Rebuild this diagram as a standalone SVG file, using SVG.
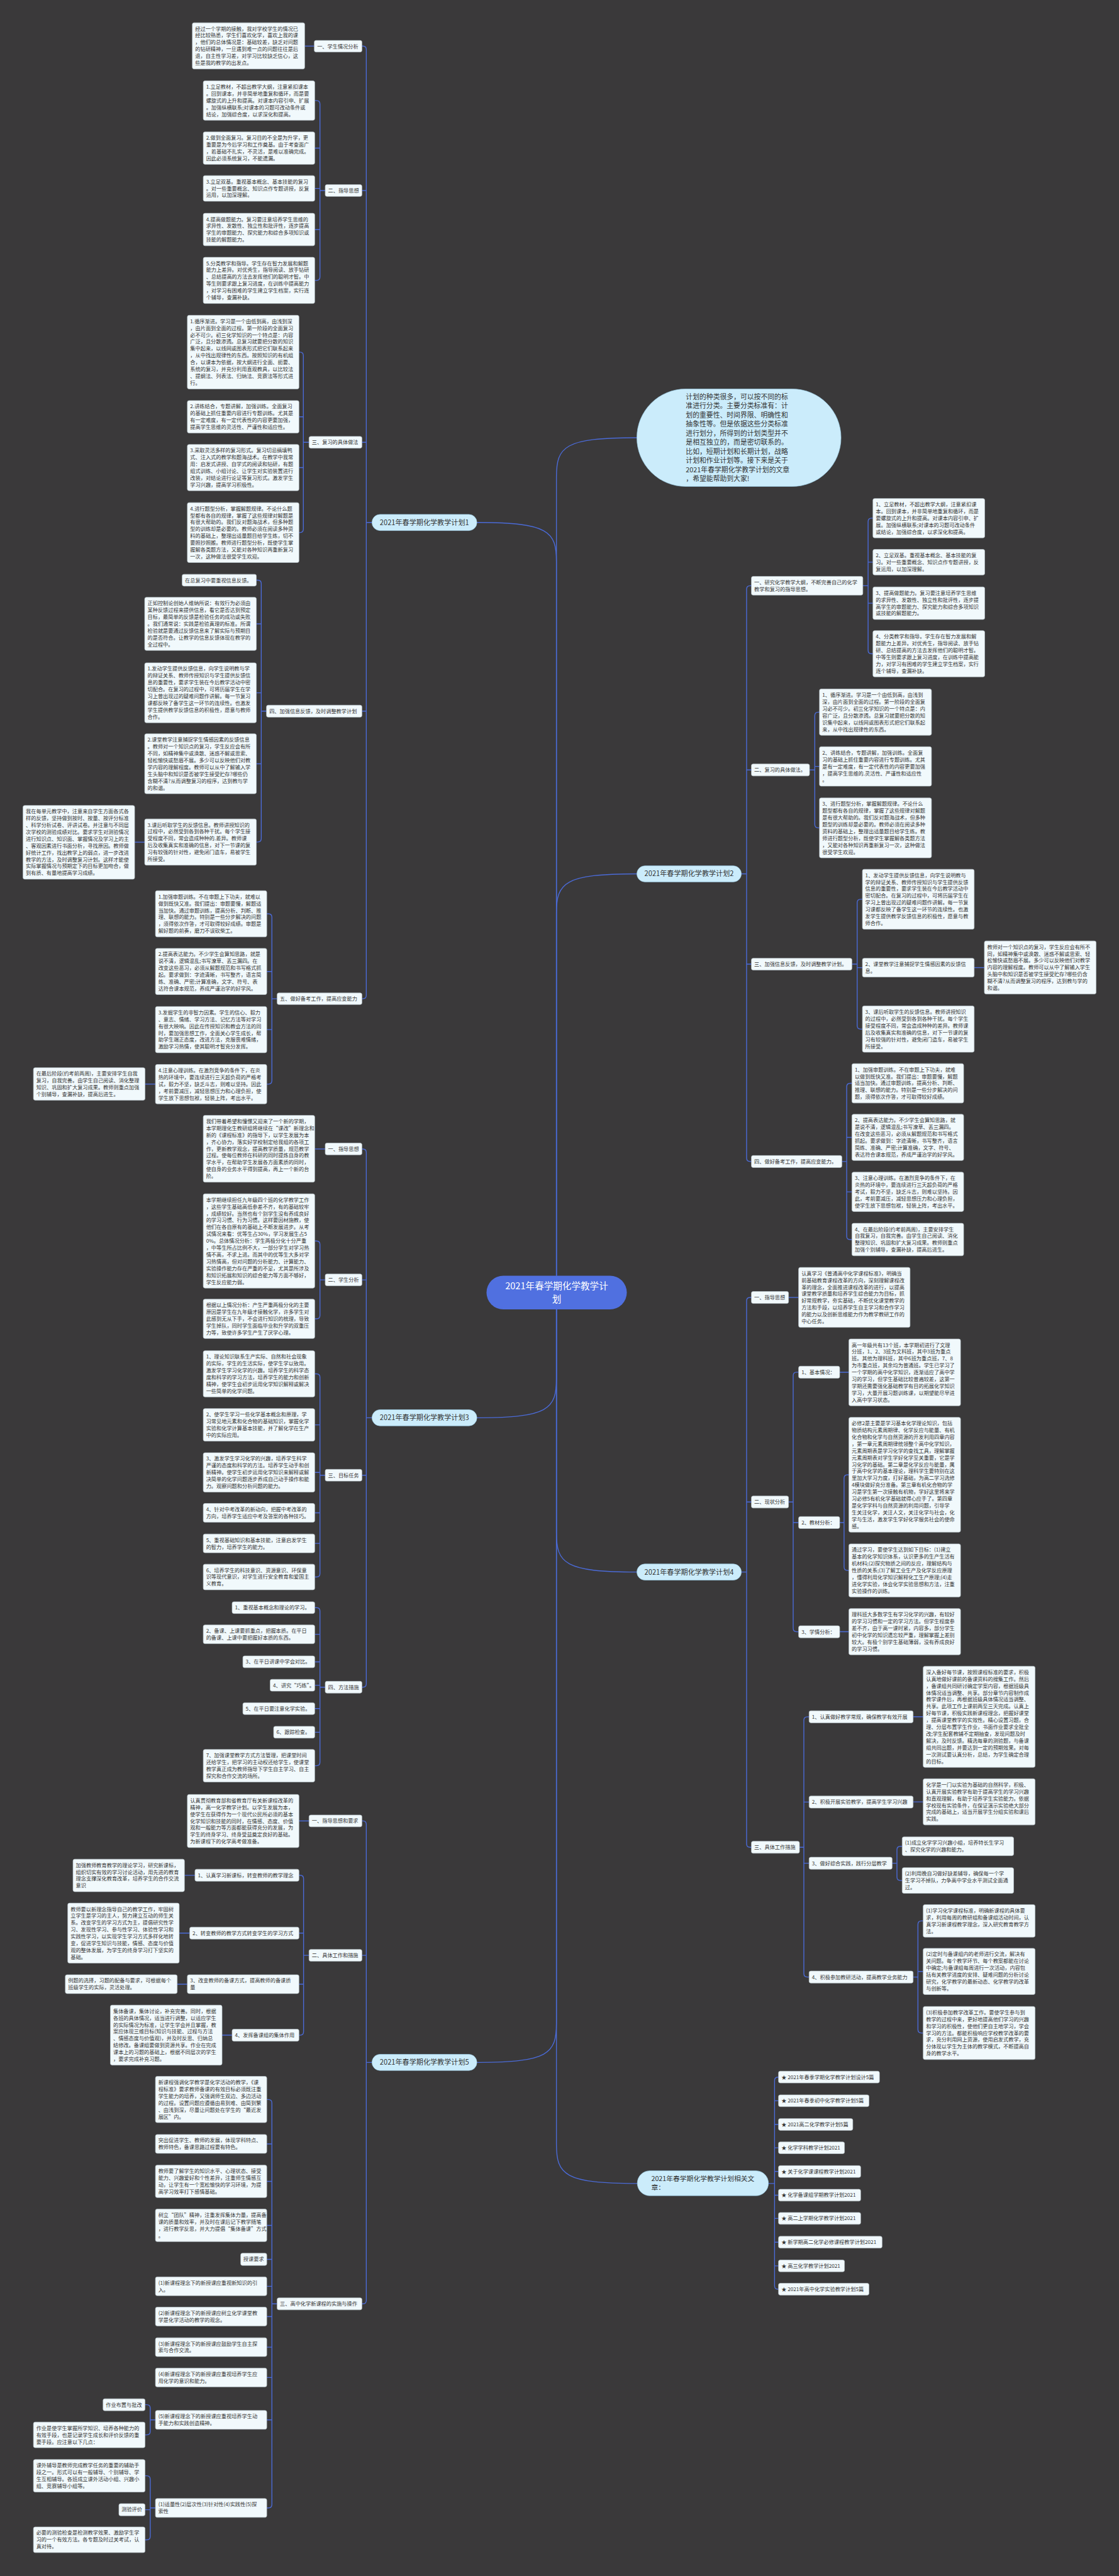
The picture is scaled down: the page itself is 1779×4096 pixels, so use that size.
<svg xmlns="http://www.w3.org/2000/svg" width="1779" height="4096" viewBox="0 0 1779 4096">
<style>
.bg{fill:#3a393a}
.b{fill:#f1f9fc;stroke:#b9c6cc;stroke-width:1}
.t{font-family:"Noto Sans CJK SC","Noto Sans",sans-serif;font-size:11.8px;fill:#333}
.c{fill:none;stroke:#4b6bd8;stroke-width:2}
.pn{fill:#cbecfb;stroke:#9fd2ea;stroke-width:1}
.pt{font-family:"Noto Sans CJK SC","Noto Sans",sans-serif;font-size:16px;fill:#333}
.ct{font-family:"Noto Sans CJK SC","Noto Sans",sans-serif;font-size:21px;fill:#fff}
</style>
<rect class="bg" x="0" y="0" width="1779" height="4096"/>
<g transform="scale(0.694922)">
<g id="connectors">
<path class="c" d="M1273 2919 V1285.5 C1273 1215.5 1255 1195.5 1091 1195.5"/>
<path class="c" d="M1273 2919 V1091.5 C1273 1021.5 1291 1001.5 1457 1001.5"/>
<path class="c" d="M1273 2919 V2089.5 C1273 2019.5 1291 1999.5 1457 1999.5"/>
<path class="c" d="M1273 2996 V3154 C1273 3224 1255 3244 1091 3244"/>
<path class="c" d="M1273 2996 V3507 C1273 3577 1291 3597 1457 3597"/>
<path class="c" d="M1273 2996 V4629 C1273 4699 1255 4719 1091 4719"/>
<path class="c" d="M1273 2996 V4906 C1273 4976 1291 4996 1458 4996"/>
<path class="c" d="M828 105.5 H830 Q838 105.5 838 113.5 V2277.25 Q838 2285.25 830 2285.25 H828 M838 436 H828 M838 1012 H828 M838 1627.25 H828 M851 1195.5 H838"/>
<path class="c" d="M719 105.5 H697"/>
<path class="c" d="M720 230 H724 Q732 230 732 238 V633.6 Q732 641.6 724 641.6 H720 M732 338.9 H720 M732 431.2 H720 M732 525.2 H720 M744 436 H732"/>
<path class="c" d="M684 805.7 H686 Q694 805.7 694 813.7 V1210.6 Q694 1218.6 686 1218.6 H684 M694 953.7 H684 M694 1069.9 H684 M707 1012 H694"/>
<path class="c" d="M586.5 1327.5 H589.7 Q597.7 1327.5 597.7 1335.5 V1918.7 Q597.7 1926.7 589.7 1926.7 H586.5 M597.7 1427.5 H586.5 M597.7 1585.2 H586.5 M597.7 1747.6 H586.5 M609.6 1627.25 H597.7"/>
<path class="c" d="M331 1927 H308"/>
<path class="c" d="M610.3 2090.9 H614 Q622 2090.9 622 2098.9 V2472.7 Q622 2480.7 614 2480.7 H610.3 M622 2222.9 H610.3 M622 2355.9 H610.3 M634 2285.25 H622"/>
<path class="c" d="M355.6 2480.5 H331.8"/>
<path class="c" d="M828 2629 H830 Q838 2629 838 2637 V3852.5 Q838 3860.5 830 3860.5 H828 M838 2928.5 H828 M838 3375.5 H828 M851 3244 H838"/>
<path class="c" d="M744 2629 H720"/>
<path class="c" d="M720 2839.5 H724 Q732 2839.5 732 2847.5 V3009.7 Q732 3017.7 724 3017.7 H720 M744 2928.5 H732"/>
<path class="c" d="M720 3143.5 H724 Q732 3143.5 732 3151.5 V3600.4 Q732 3608.4 724 3608.4 H720 M732 3260.2 H720 M732 3369 H720 M732 3461.5 H720 M732 3531.5 H720 M744 3375.5 H732"/>
<path class="c" d="M720 3678.5 H724 Q732 3678.5 732 3686.5 V4032.2 Q732 4040.2 724 4040.2 H720 M732 3739.5 H720 M732 3802.5 H720 M732 3856 H720 M732 3909.5 H720 M732 3963.5 H720 M744 3860.5 H732"/>
<path class="c" d="M828 4166.5 H830 Q838 4166.5 838 4174.5 V5263.5 Q838 5271.5 830 5271.5 H828 M838 4474 H828 M851 4719 H838"/>
<path class="c" d="M707 4166.5 H684"/>
<path class="c" d="M684 4290.75 H686.5 Q694.5 4290.75 694.5 4298.75 V4648.75 Q694.5 4656.75 686.5 4656.75 H684 M694.5 4423.25 H684 M694.5 4540 H684 M707 4474 H694.5"/>
<path class="c" d="M446 4291 H422 M434 4423.25 H410 M428.6 4540 H405.4 M531 4656.7 H508"/>
<path class="c" d="M610.3 4803.9 H614 Q622 4803.9 622 4811.9 V5730.5 Q622 5738.5 614 5738.5 H610.3 M622 4905.5 H610.3 M622 4991.2 H610.3 M622 5091.9 H610.3 M622 5169.6 H610.3 M622 5231.3 H610.3 M622 5300.5 H610.3 M622 5370.5 H610.3 M622 5440 H610.3 M622 5536.9 H610.3 M634 5271.5 H622"/>
<path class="c" d="M331.8 5502.3 H335.7 Q343.7 5502.3 343.7 5510.3 V5563.35 Q343.7 5571.35 335.7 5571.35 H331.8 M355.6 5536.9 H343.7"/>
<path class="c" d="M331.8 5664.9 H335.7 Q343.7 5664.9 343.7 5672.9 V5803.35 Q343.7 5811.35 335.7 5811.35 H331.8 M343.7 5742.5 H331.8 M355.6 5738.5 H343.7"/>
<path class="c" d="M1719 1340.3 H1716 Q1708 1340.3 1708 1348.3 V2649.75 Q1708 2657.75 1716 2657.75 H1719 M1708 1761.75 H1719 M1708 2206.1 H1719 M1696 1999.5 H1708"/>
<path class="c" d="M1997 1185.5 H1994 Q1986 1185.5 1986 1193.5 V1487.9 Q1986 1495.9 1994 1495.9 H1997 M1986 1286.35 H1997 M1986 1380.2 H1997 M1974 1340.3 H1986"/>
<path class="c" d="M1874.7 1629.5 H1872 Q1864 1629.5 1864 1637.5 V1886.3 Q1864 1894.3 1872 1894.3 H1874.7 M1864 1753.65 H1874.7 M1852 1761.75 H1864"/>
<path class="c" d="M1973 2057.6 H1969 Q1961 2057.6 1961 2065.6 V2346.7 Q1961 2354.7 1969 2354.7 H1973 M1961 2214.1 H1973 M1949 2206.1 H1961"/>
<path class="c" d="M2228.7 2214 H2252"/>
<path class="c" d="M1949 2478.75 H1945 Q1937 2478.75 1937 2486.75 V2828.2 Q1937 2836.2 1945 2836.2 H1949 M1937 2602.5 H1949 M1937 2727.05 H1949 M1926 2657.75 H1937"/>
<path class="c" d="M1719 2968.75 H1716 Q1708 2968.75 1708 2976.75 V4218.75 Q1708 4226.75 1716 4226.75 H1719 M1708 3436.75 H1719 M1696 3597 H1708"/>
<path class="c" d="M1804 2968.7 H1827"/>
<path class="c" d="M1827 3139.75 H1822.6 Q1814.6 3139.75 1814.6 3147.75 V3725.75 Q1814.6 3733.75 1822.6 3733.75 H1827 M1814.6 3483.75 H1827 M1804 3436.75 H1814.6"/>
<path class="c" d="M1921 3140 H1942 M1921 3733.6 H1942"/>
<path class="c" d="M1942 3374.4 H1939 Q1931 3374.4 1931 3382.4 V3585.35 Q1931 3593.35 1939 3593.35 H1942 M1921 3483.75 H1931"/>
<path class="c" d="M1851 3928.25 H1847 Q1839 3928.25 1839 3936.25 V4515.75 Q1839 4523.75 1847 4523.75 H1851 M1839 4123.25 H1851 M1839 4263.25 H1851 M1829 4226.75 H1839"/>
<path class="c" d="M2089 3928.2 H2112 M2089 4123 H2112"/>
<path class="c" d="M2064 4224.5 H2060 Q2052 4224.5 2052 4232.5 V4294.75 Q2052 4302.75 2060 4302.75 H2064 M2041 4263.25 H2052"/>
<path class="c" d="M2112 4395.2 H2108 Q2100 4395.2 2100 4403.2 V4643.75 Q2100 4651.75 2108 4651.75 H2112 M2100 4510.9 H2112 M2089 4523.75 H2100"/>
<path class="c" d="M1781 4752.6 H1780 Q1772 4752.6 1772 4760.6 V5230 Q1772 5238 1780 5238 H1781 M1772 4806.8 H1781 M1772 4861 H1781 M1772 4914.4 H1781 M1772 4968.6 H1781 M1772 5022.8 H1781 M1772 5076 H1781 M1772 5130.4 H1781 M1772 5184.6 H1781 M1758 4996 H1772"/>
</g>

<g id="center">
<rect x="1113" y="2919" width="321" height="77" rx="38.5" fill="#5070e0"/>
<text class="ct" text-anchor="middle" x="1273.5" y="2950.5">2021年春学期化学教学计<tspan x="1273.5" dy="29">划</tspan></text>
</g>

<g id="intro">
<rect class="pn" x="1457" y="890" width="467" height="223" rx="111.5"/>
<text class="pt" style="font-size:15.6px" x="1569" y="913.8"><tspan x="1569" dy="0">计划的种类很多，可以按不同的标</tspan><tspan x="1569" dy="20.8">准进行分类。主要分类标准有：计</tspan><tspan x="1569" dy="20.8">划的重要性、时间界限、明确性和</tspan><tspan x="1569" dy="20.8">抽象性等。但是依据这些分类标准</tspan><tspan x="1569" dy="20.8">进行划分，所得到的计划类型并不</tspan><tspan x="1569" dy="20.8">是相互独立的，而是密切联系的。</tspan><tspan x="1569" dy="20.8">比如，短期计划和长期计划，战略</tspan><tspan x="1569" dy="20.8">计划和作业计划等。接下来是关于</tspan><tspan x="1569" dy="20.8">2021年春学期化学教学计划的文章</tspan><tspan x="1569" dy="20.8">，希望能帮助到大家!</tspan></text>
</g>

<g id="plan1-node"><rect class="pn" x="851" y="1177" width="240" height="37" rx="18.5"/><text class="pt" text-anchor="middle" x="971" y="1201.1">2021年春学期化学教学计划1</text></g>
<g id="plan2-node"><rect class="pn" x="1457" y="1981" width="239" height="37" rx="18.5"/><text class="pt" text-anchor="middle" x="1576.5" y="2005.1">2021年春学期化学教学计划2</text></g>
<g id="plan3-node"><rect class="pn" x="851" y="3225.5" width="240" height="37" rx="18.5"/><text class="pt" text-anchor="middle" x="971" y="3249.6">2021年春学期化学教学计划3</text></g>
<g id="plan4-node"><rect class="pn" x="1457" y="3578.5" width="239" height="37" rx="18.5"/><text class="pt" text-anchor="middle" x="1576.5" y="3602.6">2021年春学期化学教学计划4</text></g>
<g id="plan5-node"><rect class="pn" x="851" y="4700.5" width="240" height="37" rx="18.5"/><text class="pt" text-anchor="middle" x="971" y="4724.6">2021年春学期化学教学计划5</text></g>
<g id="related-node"><rect class="pn" x="1458" y="4967" width="300" height="57" rx="28.5"/><text class="pt" style="font-size:15.5px" x="1490" y="4990.7">2021年春学期化学教学计划相关文<tspan x="1490" dy="20.6">章：</tspan></text></g>

<!-- Plan 1 -->
<g id="p1-l1"><rect class="b" x="719" y="92.5" width="109" height="26.5" rx="4"/><text class="t" x="725.5" y="110.4">一、学生情况分析</text></g>
<g id="p1-a"><rect class="b" x="440" y="52" width="257" height="105.8" rx="4"/><text class="t" x="446.5" y="69.9"><tspan x="446.5" dy="0">经过一个学期的接触，我对学校学生的情况已</tspan><tspan x="446.5" dy="15.7">经比较熟悉，学生们喜欢化学，喜欢上我的课</tspan><tspan x="446.5" dy="15.7">，他们的总体情况是：基础较差，缺乏对问题</tspan><tspan x="446.5" dy="15.7">的钻研精神，一旦遇到难一点的问题往往是后</tspan><tspan x="446.5" dy="15.7">退，自主性学习差，对学习比较缺乏信心，这</tspan><tspan x="446.5" dy="15.7">些是我的教学的出发点。</tspan></text></g>
<g id="p1-l2"><rect class="b" x="744" y="422.5" width="84" height="27" rx="4"/><text class="t" x="750.5" y="440.4">二、指导思想</text></g>
<g id="p1-b1"><rect class="b" x="465" y="185" width="255" height="90.1" rx="4"/><text class="t" x="471.5" y="202.9"><tspan x="471.5" dy="0">1.立足教材，不超出教学大纲，注意紧扣课本</tspan><tspan x="471.5" dy="15.7">。回到课本，并非简单地重复和循环，而是要</tspan><tspan x="471.5" dy="15.7">螺旋式的上升和提高。对课本内容引申、扩展</tspan><tspan x="471.5" dy="15.7">。加强纵横联系;对课本的习题可改动条件或</tspan><tspan x="471.5" dy="15.7">结论，加强综合度，以求深化和提高。</tspan></text></g>
<g id="p1-b2"><rect class="b" x="465" y="301.7" width="255" height="74.4" rx="4"/><text class="t" x="471.5" y="319.6"><tspan x="471.5" dy="0">2.做到全面复习。复习目的不全是为升学，更</tspan><tspan x="471.5" dy="15.7">重要是为今后学习和工作奠基。由于考查面广</tspan><tspan x="471.5" dy="15.7">，若基础不扎实，不灵活，是难以准确完成。</tspan><tspan x="471.5" dy="15.7">因此必须系统复习，不能遗漏。</tspan></text></g>
<g id="p1-b3"><rect class="b" x="465" y="401.8" width="255" height="58.7" rx="4"/><text class="t" x="471.5" y="419.7"><tspan x="471.5" dy="0">3.立足双基。重视基本概念、基本技能的复习</tspan><tspan x="471.5" dy="15.7">。对一些重要概念、知识点作专题讲授，反复</tspan><tspan x="471.5" dy="15.7">运用，以加深理解。</tspan></text></g>
<g id="p1-b4"><rect class="b" x="465" y="488" width="255" height="74.4" rx="4"/><text class="t" x="471.5" y="505.9"><tspan x="471.5" dy="0">4.提高做题能力。复习要注意培养学生思维的</tspan><tspan x="471.5" dy="15.7">求异性、发散性、独立性和批评性，逐步提高</tspan><tspan x="471.5" dy="15.7">学生的审题能力、探究能力和综合多项知识或</tspan><tspan x="471.5" dy="15.7">技能的解题能力。</tspan></text></g>
<g id="p1-b5"><rect class="b" x="465" y="588.7" width="255" height="105.8" rx="4"/><text class="t" x="471.5" y="606.6"><tspan x="471.5" dy="0">5.分类教学和指导。学生存在智力发展和解题</tspan><tspan x="471.5" dy="15.7">能力上差异。对优秀生，指导阅读、放手钻研</tspan><tspan x="471.5" dy="15.7">、总结提高的方法去发挥他们的聪明才智。中</tspan><tspan x="471.5" dy="15.7">等生则要求跟上复习进度，在训练中提高能力</tspan><tspan x="471.5" dy="15.7">，对学习有困难的学生建立学生档案，实行逐</tspan><tspan x="471.5" dy="15.7">个辅导，查漏补缺。</tspan></text></g>
<g id="p1-l3"><rect class="b" x="707" y="998.5" width="121" height="27" rx="4"/><text class="t" x="713.5" y="1016.4">三、复习的具体做法</text></g>
<g id="p1-c1"><rect class="b" x="428.6" y="721.4" width="255.4" height="168.6" rx="4"/><text class="t" x="435.1" y="739.3"><tspan x="435.1" dy="0">1.循序渐进。学习是一个由低到高，由浅到深</tspan><tspan x="435.1" dy="15.7">，由片面到全面的过程。第一阶段的全面复习</tspan><tspan x="435.1" dy="15.7">必不可少。初三化学知识的一个特点是：内容</tspan><tspan x="435.1" dy="15.7">广泛，且分散渗透。总复习就要把分散的知识</tspan><tspan x="435.1" dy="15.7">集中起来，以线网或图表形式把它们联系起来</tspan><tspan x="435.1" dy="15.7">，从中找出规律性的东西。按照知识的有机组</tspan><tspan x="435.1" dy="15.7">合，以课本为依据，按大纲进行全面、扼要、</tspan><tspan x="435.1" dy="15.7">系统的复习，并充分利用直观教具，以比较法</tspan><tspan x="435.1" dy="15.7">、提纲法、列表法、归纳法、竞赛法等形式进</tspan><tspan x="435.1" dy="15.7">行。</tspan></text></g>
<g id="p1-c2"><rect class="b" x="428.6" y="916.5" width="255.4" height="74.4" rx="4"/><text class="t" x="435.1" y="934.4"><tspan x="435.1" dy="0">2.讲练结合，专题讲解，加强训练。全面复习</tspan><tspan x="435.1" dy="15.7">的基础上抓住重要内容进行专题训练。尤其是</tspan><tspan x="435.1" dy="15.7">有一定难度，有一定代表性的内容更要加强，</tspan><tspan x="435.1" dy="15.7">提高学生思维的灵活性、严谨性和适应性。</tspan></text></g>
<g id="p1-c3"><rect class="b" x="428.6" y="1017" width="255.4" height="105.8" rx="4"/><text class="t" x="435.1" y="1034.9"><tspan x="435.1" dy="0">3.采取灵活多样的复习形式。复习切忌搞填鸭</tspan><tspan x="435.1" dy="15.7">式、注入式的教学和题海战术。在教学中我常</tspan><tspan x="435.1" dy="15.7">用：启发式讲授、自学式的阅读和钻研，有题</tspan><tspan x="435.1" dy="15.7">组式训练、小组讨论、让学生对实验装置进行</tspan><tspan x="435.1" dy="15.7">改装，对结论进行论证等复习形式。激发学生</tspan><tspan x="435.1" dy="15.7">学习兴趣，提高学习积极性。</tspan></text></g>
<g id="p1-c4"><rect class="b" x="428.6" y="1150" width="255.4" height="137.2" rx="4"/><text class="t" x="435.1" y="1167.9"><tspan x="435.1" dy="0">4.进行题型分析，掌握解题规律。不论什么题</tspan><tspan x="435.1" dy="15.7">型都有各自的规律，掌握了这些规律对解题是</tspan><tspan x="435.1" dy="15.7">有很大帮助的。我们反对题海战术，但多种题</tspan><tspan x="435.1" dy="15.7">型的训练却是必要的。教师必须在阅读多种资</tspan><tspan x="435.1" dy="15.7">料的基础上，整理出适量题目给学生练，切不</tspan><tspan x="435.1" dy="15.7">要照抄照搬。教师进行题型分析，既使学生掌</tspan><tspan x="435.1" dy="15.7">握解各类题方法，又能对各种知识再重新复习</tspan><tspan x="435.1" dy="15.7">一次，这种做法很受学生欢迎。</tspan></text></g>
<g id="p1-l4"><rect class="b" x="609.6" y="1613.5" width="218.4" height="27.5" rx="4"/><text class="t" x="616.1" y="1631.4">四、加强信息反馈，及时调整教学计划</text></g>
<g id="p1-d0"><rect class="b" x="416.7" y="1314" width="169.8" height="27" rx="4"/><text class="t" x="423.2" y="1331.9">在总复习中要重视信息反馈。</text></g>
<g id="p1-d1"><rect class="b" x="331" y="1366.7" width="255.5" height="121.5" rx="4"/><text class="t" x="337.5" y="1384.6"><tspan x="337.5" dy="0">正如控制论创始人维纳所说：有效行为必须由</tspan><tspan x="337.5" dy="15.7">某种反馈过程来提供信息，看它是否达到预定</tspan><tspan x="337.5" dy="15.7">目标，最简单的反馈是检验任务的成功或失败</tspan><tspan x="337.5" dy="15.7">。我们通常说：实践是检验真理的标准。所谓</tspan><tspan x="337.5" dy="15.7">检验就是要通过反馈信息来了解实际与预期目</tspan><tspan x="337.5" dy="15.7">的是否符合。让教学的信息反馈体现在教学的</tspan><tspan x="337.5" dy="15.7">全过程中。</tspan></text></g>
<g id="p1-d2"><rect class="b" x="331" y="1516.6" width="255.5" height="137.2" rx="4"/><text class="t" x="337.5" y="1534.5"><tspan x="337.5" dy="0">1.发动学生提供反馈信息，向学生说明教与学</tspan><tspan x="337.5" dy="15.7">的辩证关系、教师传授知识与学生提供反馈信</tspan><tspan x="337.5" dy="15.7">息的重要性，要求学生装在今后教学活动中密</tspan><tspan x="337.5" dy="15.7">切配合。在复习的过程中，可将历届学生在学</tspan><tspan x="337.5" dy="15.7">习上曾出现过的疑难问题作讲解。每一节复习</tspan><tspan x="337.5" dy="15.7">课都反映了备学生这一环节的连续性。也激发</tspan><tspan x="337.5" dy="15.7">学生提供教学反馈信息的积极性，愿意与教师</tspan><tspan x="337.5" dy="15.7">合作。</tspan></text></g>
<g id="p1-d3"><rect class="b" x="331" y="1679" width="255.5" height="137.2" rx="4"/><text class="t" x="337.5" y="1696.9"><tspan x="337.5" dy="0">2.课堂教学注意捕捉学生情感因素的反馈信息</tspan><tspan x="337.5" dy="15.7">。教师对一个知识点的复习，学生反应会有所</tspan><tspan x="337.5" dy="15.7">不同，如精神集中或涣散、迷惑不解或思索、</tspan><tspan x="337.5" dy="15.7">轻松愉快或愁眉不展。多少可以反映他们对教</tspan><tspan x="337.5" dy="15.7">学内容的理解程度。教师可以从中了解输入学</tspan><tspan x="337.5" dy="15.7">生头脑中和知识是否被学生接受贮存?哪些仍</tspan><tspan x="337.5" dy="15.7">含糊不清?从而调整复习的程序，达到教与学</tspan><tspan x="337.5" dy="15.7">的和谐。</tspan></text></g>
<g id="p1-d4"><rect class="b" x="331" y="1873.8" width="255.5" height="105.8" rx="4"/><text class="t" x="337.5" y="1891.7"><tspan x="337.5" dy="0">3.课后听取学生的反馈信息。教师讲授知识的</tspan><tspan x="337.5" dy="15.7">过程中，必然受到各到各种干扰。每个学生接</tspan><tspan x="337.5" dy="15.7">受程度不同，常会造成种种的.差异。教师课</tspan><tspan x="337.5" dy="15.7">后及收集真实和准确的信息，对下一节课的复</tspan><tspan x="337.5" dy="15.7">习有较强的针对性，避免闭门造车，易被学生</tspan><tspan x="337.5" dy="15.7">所接受。</tspan></text></g>
<g id="p1-d4l"><rect class="b" x="52.6" y="1843" width="255.4" height="168.6" rx="4"/><text class="t" x="59.1" y="1860.9"><tspan x="59.1" dy="0">我在每单元教学中，注意来自学生方面各式各</tspan><tspan x="59.1" dy="15.7">样的反馈，坚持做到按时、按量、按评分标准</tspan><tspan x="59.1" dy="15.7">、科学分析试卷、评讲试卷。并注意与不同层</tspan><tspan x="59.1" dy="15.7">次学校的测验成绩对比。要求学生对测验情况</tspan><tspan x="59.1" dy="15.7">进行知识点、知识面、掌握情况及学习上的主</tspan><tspan x="59.1" dy="15.7">、客观因素进行书面分析，寻找原因。教师做</tspan><tspan x="59.1" dy="15.7">好统计工作，找出教学上的弱点，进一步改进</tspan><tspan x="59.1" dy="15.7">教学的方法，及时调整复习计划。这样才能使</tspan><tspan x="59.1" dy="15.7">实际掌握情况与预期定下的目标更加吻合，做</tspan><tspan x="59.1" dy="15.7">到有质、有量地提高学习成绩。</tspan></text></g>
<g id="p1-l5"><rect class="b" x="634" y="2272" width="194" height="26.5" rx="4"/><text class="t" x="640.5" y="2289.9">五、做好备考工作，提高应变能力</text></g>
<g id="p1-e1"><rect class="b" x="355.6" y="2038" width="254.7" height="105.8" rx="4"/><text class="t" x="362.1" y="2055.9"><tspan x="362.1" dy="0">1.加强审题训练。不在审题上下功夫，就难以</tspan><tspan x="362.1" dy="15.7">做到既快又准。我们提出：审题要慢，解题适</tspan><tspan x="362.1" dy="15.7">当加快。通过审题训练，提高分析、判断、推</tspan><tspan x="362.1" dy="15.7">理、联想的能力。特别是一些分步解决的问题</tspan><tspan x="362.1" dy="15.7">，须得依次作答，才可取得较好成绩。审题是</tspan><tspan x="362.1" dy="15.7">解好题的前奏，磨刀不误砍柴工。</tspan></text></g>
<g id="p1-e2"><rect class="b" x="355.6" y="2170" width="254.7" height="105.8" rx="4"/><text class="t" x="362.1" y="2187.9"><tspan x="362.1" dy="0">2.提高表达能力。不少学生会算知思路，就是</tspan><tspan x="362.1" dy="15.7">说不清，逻辑混乱;书写潦草、丢三漏四。在</tspan><tspan x="362.1" dy="15.7">改变这些恶习，必须从解题规范和书写格式抓</tspan><tspan x="362.1" dy="15.7">起。要求做到：字迹清晰，书写整齐，语言简</tspan><tspan x="362.1" dy="15.7">练、准确、严密;计算准确，文字、符号、表</tspan><tspan x="362.1" dy="15.7">达符合课本规范，养成严谨治学的好学风。</tspan></text></g>
<g id="p1-e3"><rect class="b" x="355.6" y="2303" width="254.7" height="105.8" rx="4"/><text class="t" x="362.1" y="2320.9"><tspan x="362.1" dy="0">3.发掘学生的非智力因素。学生的信心、毅力</tspan><tspan x="362.1" dy="15.7">、意志、情绪、学习方法、记忆方法等对学习</tspan><tspan x="362.1" dy="15.7">有很大映响。因此在传授知识和教会方法的同</tspan><tspan x="362.1" dy="15.7">时，要加强思想工作，全面关心学生成长，帮</tspan><tspan x="362.1" dy="15.7">助学生端正态度，改进方法，克服畏难情绪，</tspan><tspan x="362.1" dy="15.7">激励学习热情，使其聪明才智充分发挥。</tspan></text></g>
<g id="p1-e4"><rect class="b" x="355.6" y="2435.6" width="254.7" height="90.1" rx="4"/><text class="t" x="362.1" y="2453.5"><tspan x="362.1" dy="0">4.注意心理训练。在激烈竞争的条件下，在炎</tspan><tspan x="362.1" dy="15.7">热的环境中，要连续进行三天超负荷的严格考</tspan><tspan x="362.1" dy="15.7">试，毅力不坚，缺乏斗志，则难以坚持。因此</tspan><tspan x="362.1" dy="15.7">，考前要减压，减轻思想压力和心理负担，使</tspan><tspan x="362.1" dy="15.7">学生放下思想包袱，轻装上阵，考出水平。</tspan></text></g>
<g id="p1-e4l"><rect class="b" x="76.5" y="2443" width="255.3" height="74.4" rx="4"/><text class="t" x="83" y="2460.9"><tspan x="83" dy="0">在最后阶段(约考前两周)，主要安排学生自我</tspan><tspan x="83" dy="15.7">复习，自我完善。由学生自己阅读、消化整理</tspan><tspan x="83" dy="15.7">知识、巩固和扩大复习成果。教师则重点加强</tspan><tspan x="83" dy="15.7">个别辅导，查漏补缺，提高后进生。</tspan></text></g>

<!-- Plan 3 -->
<g id="p3-m1"><rect class="b" x="744" y="2615.5" width="84" height="27" rx="4"/><text class="t" x="750.5" y="2633.4">一、指导思想</text></g>
<g id="p3-m1b"><rect class="b" x="465" y="2552" width="255" height="152.9" rx="4"/><text class="t" x="471.5" y="2569.9"><tspan x="471.5" dy="0">我们带着希望和憧憬又迎来了一个新的学期，</tspan><tspan x="471.5" dy="15.7">本学期理化生教研组将继续在“课改”新理念和</tspan><tspan x="471.5" dy="15.7">新的《课程标准》的指导下，以学生发展为本</tspan><tspan x="471.5" dy="15.7">，齐心协力，落实好学校制定给我组的各项工</tspan><tspan x="471.5" dy="15.7">作，更新教学观念，提高教学质量，规范教学</tspan><tspan x="471.5" dy="15.7">过程。使每位教师在科研的同时提炼自身的教</tspan><tspan x="471.5" dy="15.7">学水平，在帮助学生发展各方面素质的同时，</tspan><tspan x="471.5" dy="15.7">使自身的业务水平得到提高，再上一个新的台</tspan><tspan x="471.5" dy="15.7">阶。</tspan></text></g>
<g id="p3-m2"><rect class="b" x="744" y="2915" width="84" height="27" rx="4"/><text class="t" x="750.5" y="2932.9">二、学生分析</text></g>
<g id="p3-m2a"><rect class="b" x="465" y="2731.6" width="255" height="215.7" rx="4"/><text class="t" x="471.5" y="2749.5"><tspan x="471.5" dy="0">本学期继续担任九年级四个班的化学教学工作</tspan><tspan x="471.5" dy="15.7">，这些学生基础高低参差不齐，有的基础较牢</tspan><tspan x="471.5" dy="15.7">，成绩较好。当然也有个别学生没有养成良好</tspan><tspan x="471.5" dy="15.7">的学习习惯、行为习惯。这样要因材施教，使</tspan><tspan x="471.5" dy="15.7">他们在各自原有的基础上不断发展进步。从考</tspan><tspan x="471.5" dy="15.7">试情况来看：优等生占30%，学习发展生占5</tspan><tspan x="471.5" dy="15.7">0%。总体情况分析：学生两极分化十分严重</tspan><tspan x="471.5" dy="15.7">，中等生所占比例不大，一部分学生对学习热</tspan><tspan x="471.5" dy="15.7">情不高，不求上进。而其中的优等生大多对学</tspan><tspan x="471.5" dy="15.7">习热情高，但对问题的分析能力、计算能力、</tspan><tspan x="471.5" dy="15.7">实验操作能力存在严重的不足，尤其是所涉及</tspan><tspan x="471.5" dy="15.7">和知识拓展和知识的综合能力等方面不够好，</tspan><tspan x="471.5" dy="15.7">学生反应能力弱。</tspan></text></g>
<g id="p3-m2b"><rect class="b" x="465" y="2972.6" width="255" height="90.1" rx="4"/><text class="t" x="471.5" y="2990.5"><tspan x="471.5" dy="0">根据以上情况分析：产生严重两极分化的主要</tspan><tspan x="471.5" dy="15.7">原因是学生在九年级才接触化学，许多学生对</tspan><tspan x="471.5" dy="15.7">此感到无从下手，不会进行知识的梳理，导致</tspan><tspan x="471.5" dy="15.7">学生掉队，同时学生面临毕业和升学的双重压</tspan><tspan x="471.5" dy="15.7">力等，致使许多学生产生了厌学心理。</tspan></text></g>
<g id="p3-m3"><rect class="b" x="744" y="3362" width="84" height="27" rx="4"/><text class="t" x="750.5" y="3379.9">三、目标任务</text></g>
<g id="p3-n1"><rect class="b" x="465" y="3090.6" width="255" height="105.8" rx="4"/><text class="t" x="471.5" y="3108.5"><tspan x="471.5" dy="0">1、理论知识联系生产实际、自然和社会现象</tspan><tspan x="471.5" dy="15.7">的实际，学生的生活实际，使学生学以致用。</tspan><tspan x="471.5" dy="15.7">激发学生学习化学的兴趣。培养学生的科学态</tspan><tspan x="471.5" dy="15.7">度和科学的学习方法，培养学生的能力和创新</tspan><tspan x="471.5" dy="15.7">精神，使学生会初步运用化学知识解释或解决</tspan><tspan x="471.5" dy="15.7">一些简单的化学问题。</tspan></text></g>
<g id="p3-n2"><rect class="b" x="465" y="3223" width="255" height="74.4" rx="4"/><text class="t" x="471.5" y="3240.9"><tspan x="471.5" dy="0">2、使学生学习一些化学基本概念和原理，学</tspan><tspan x="471.5" dy="15.7">习常见地元素和化合物的基础知识，掌握化学</tspan><tspan x="471.5" dy="15.7">实验和化学计算基本技能，并了解化学在生产</tspan><tspan x="471.5" dy="15.7">中的实际应用。</tspan></text></g>
<g id="p3-n3"><rect class="b" x="465" y="3324" width="255" height="90.1" rx="4"/><text class="t" x="471.5" y="3341.9"><tspan x="471.5" dy="0">3、激发学生学习化学的兴趣，培养学生科学</tspan><tspan x="471.5" dy="15.7">严谨的态度和科学的方法。培养学生动手和创</tspan><tspan x="471.5" dy="15.7">新精神。使学生初步运用化学知识来解释或解</tspan><tspan x="471.5" dy="15.7">决简单的化学问题逐步养成自己动手操作和能</tspan><tspan x="471.5" dy="15.7">力。观察问题和分析问题的能力。</tspan></text></g>
<g id="p3-n4"><rect class="b" x="465" y="3440" width="255" height="43" rx="4"/><text class="t" x="471.5" y="3457.9"><tspan x="471.5" dy="0">4、针对中考改革的新动向，把握中考改革的</tspan><tspan x="471.5" dy="15.7">方向，培养学生适应中考及答案的各种技巧。</tspan></text></g>
<g id="p3-n5"><rect class="b" x="465" y="3510" width="255" height="43" rx="4"/><text class="t" x="471.5" y="3527.9"><tspan x="471.5" dy="0">5、重视基础知识和基本技能，注意启发学生</tspan><tspan x="471.5" dy="15.7">的智力，培养学生的能力。</tspan></text></g>
<g id="p3-n6"><rect class="b" x="465" y="3579" width="255" height="58.7" rx="4"/><text class="t" x="471.5" y="3596.9"><tspan x="471.5" dy="0">6、培养学生的科技意识、资源意识、环保意</tspan><tspan x="471.5" dy="15.7">识等现代意识，对学生进行安全教育和爱国主</tspan><tspan x="471.5" dy="15.7">义教育。</tspan></text></g>
<g id="p3-m4"><rect class="b" x="744" y="3847" width="84" height="27" rx="4"/><text class="t" x="750.5" y="3864.9">四、方法措施</text></g>
<g id="p3-p1"><rect class="b" x="531" y="3665" width="189" height="27" rx="4"/><text class="t" x="537.5" y="3682.9">1、重视基本概念和理论的学习。</text></g>
<g id="p3-p2"><rect class="b" x="465" y="3718" width="255" height="43" rx="4"/><text class="t" x="471.5" y="3735.9"><tspan x="471.5" dy="0">2、备课、上课要抓重点，把握本质。在平日</tspan><tspan x="471.5" dy="15.7">的备课、上课中要把握好本质的东西。</tspan></text></g>
<g id="p3-p3"><rect class="b" x="555.6" y="3789" width="164.4" height="27" rx="4"/><text class="t" x="562.1" y="3806.9">3、在平日讲课中学会对比。</text></g>
<g id="p3-p4"><rect class="b" x="618" y="3842.5" width="102" height="27" rx="4"/><text class="t" x="624.5" y="3860.4">4、讲究“巧练”。</text></g>
<g id="p3-p5"><rect class="b" x="555.6" y="3896" width="164.4" height="27" rx="4"/><text class="t" x="562.1" y="3913.9">5、在平日要注意化学实验。</text></g>
<g id="p3-p6"><rect class="b" x="626" y="3950" width="94" height="27" rx="4"/><text class="t" x="632.5" y="3967.9">6、跟踪检查。</text></g>
<g id="p3-p7"><rect class="b" x="465" y="4003" width="255" height="74.4" rx="4"/><text class="t" x="471.5" y="4020.9"><tspan x="471.5" dy="0">7、加强课堂教学方式方法管理，把课堂时间</tspan><tspan x="471.5" dy="15.7">还给学生，把学习的主动权还给学生，使课堂</tspan><tspan x="471.5" dy="15.7">教学真正成为教师指导下学生自主学习、自主</tspan><tspan x="471.5" dy="15.7">探究和合作交流的场所。</tspan></text></g>

<!-- Plan 5 -->
<g id="p5-q1"><rect class="b" x="707" y="4153" width="121" height="27" rx="4"/><text class="t" x="713.5" y="4170.9">一、指导思想和要求</text></g>
<g id="p5-q1b"><rect class="b" x="428.6" y="4106" width="255.4" height="121.5" rx="4"/><text class="t" x="435.1" y="4123.9"><tspan x="435.1" dy="0">认真贯彻教育部和省教育厅有关新课程改革的</tspan><tspan x="435.1" dy="15.7">精神，高一化学教学计划。以学生发展为本，</tspan><tspan x="435.1" dy="15.7">使学生在获得作为一个现代公民所必须的基本</tspan><tspan x="435.1" dy="15.7">化学知识和技能的同时，在情感、态度、价值</tspan><tspan x="435.1" dy="15.7">观和一般能力等方面都能获得充分的发展，为</tspan><tspan x="435.1" dy="15.7">学生的终身学习、终身受益奠定良好的基础。</tspan><tspan x="435.1" dy="15.7">为新课程下的化学高考做准备。</tspan></text></g>
<g id="p5-q2"><rect class="b" x="707" y="4460.5" width="121" height="27" rx="4"/><text class="t" x="713.5" y="4478.4">二、具体工作和措施</text></g>
<g id="p5-r1"><rect class="b" x="446" y="4277" width="238" height="27.5" rx="4"/><text class="t" x="452.5" y="4294.9">1、认真学习新课标，转变教师的教学理念</text></g>
<g id="p5-r1l"><rect class="b" x="167" y="4254" width="255" height="74.4" rx="4"/><text class="t" x="173.5" y="4271.9"><tspan x="173.5" dy="0">加强教师教育教学的理论学习，研究新课标，</tspan><tspan x="173.5" dy="15.7">组织切实有效的学习讨论活动，用先进的教育</tspan><tspan x="173.5" dy="15.7">理念支撑深化教育改革，培养学生的合作交流</tspan><tspan x="173.5" dy="15.7">意识</tspan></text></g>
<g id="p5-r2"><rect class="b" x="434" y="4409.5" width="250" height="27.5" rx="4"/><text class="t" x="440.5" y="4427.4">2、转变教师的教学方式转变学生的学习方式</text></g>
<g id="p5-r2l"><rect class="b" x="155" y="4354.6" width="255" height="137.2" rx="4"/><text class="t" x="161.5" y="4372.5"><tspan x="161.5" dy="0">教师要以新理念指导自己的教学工作，牢固树</tspan><tspan x="161.5" dy="15.7">立学生是学习的主人，努力建立互动的师生关</tspan><tspan x="161.5" dy="15.7">系。改变学生的学习方式为主，提倡研究性学</tspan><tspan x="161.5" dy="15.7">习、发现性学习、参与性学习、体验性学习和</tspan><tspan x="161.5" dy="15.7">实践性学习，以实现学生学习方式多样化地转</tspan><tspan x="161.5" dy="15.7">变，促进学生知识与技能，情感、态度与价值</tspan><tspan x="161.5" dy="15.7">观的整体发展，为学生的终身学习打下坚实的</tspan><tspan x="161.5" dy="15.7">基础。</tspan></text></g>
<g id="p5-r3"><rect class="b" x="428.6" y="4518.5" width="255.4" height="43" rx="4"/><text class="t" x="435.1" y="4536.4"><tspan x="435.1" dy="0">3、改变教师的备课方式，提高教师的备课质</tspan><tspan x="435.1" dy="15.7">量</tspan></text></g>
<g id="p5-r3l"><rect class="b" x="149.4" y="4518.5" width="256" height="43" rx="4"/><text class="t" x="155.9" y="4536.4"><tspan x="155.9" dy="0">例题的选择，习题的配备与要求，可根据每个</tspan><tspan x="155.9" dy="15.7">班级学生的实际，灵活处理。</tspan></text></g>
<g id="p5-r4"><rect class="b" x="531" y="4643" width="153" height="27.5" rx="4"/><text class="t" x="537.5" y="4660.9">4、发挥备课组的集体作用</text></g>
<g id="p5-r4l"><rect class="b" x="252.5" y="4588" width="255.5" height="137.2" rx="4"/><text class="t" x="259" y="4605.9"><tspan x="259" dy="0">集体备课，集体讨论，补充完善。同时，根据</tspan><tspan x="259" dy="15.7">各班的具体情况，适当进行调整，以适应学生</tspan><tspan x="259" dy="15.7">的实际情况为标准，让学生学会并且掌握，教</tspan><tspan x="259" dy="15.7">案应体现三维目标(知识与技能、过程与方法</tspan><tspan x="259" dy="15.7">、情感态度与价值观)，并及时反思、归纳总</tspan><tspan x="259" dy="15.7">结修改。备课组要做到资源共享。作业在完成</tspan><tspan x="259" dy="15.7">课本上的习题的基础上，根据不同层次的学生</tspan><tspan x="259" dy="15.7">，要求完成补充习题。</tspan></text></g>
<g id="p5-q3"><rect class="b" x="634" y="5257.7" width="194" height="27.5" rx="4"/><text class="t" x="640.5" y="5275.6">三、高中化学新课程的实施与操作</text></g>
<g id="p5-s1"><rect class="b" x="355.6" y="4751" width="254.7" height="105.8" rx="4"/><text class="t" x="362.1" y="4768.9"><tspan x="362.1" dy="0">新课程强调化学教学是化学活动的教学，《课</tspan><tspan x="362.1" dy="15.7">程标准》要求教师备课的有效目标必须既注重</tspan><tspan x="362.1" dy="15.7">学生能力的培养，又强调师生双边、多边活动</tspan><tspan x="362.1" dy="15.7">的过程。设置问题应遵循由易到难、由简到繁</tspan><tspan x="362.1" dy="15.7">、由浅到深，尽量让问题处在学生的“最近发</tspan><tspan x="362.1" dy="15.7">展区”内。</tspan></text></g>
<g id="p5-s2"><rect class="b" x="355.6" y="4884" width="254.7" height="43" rx="4"/><text class="t" x="362.1" y="4901.9"><tspan x="362.1" dy="0">突出促进学生、教师的发展，体现学科特点、</tspan><tspan x="362.1" dy="15.7">教师特色，备课思路过程要有特色。</tspan></text></g>
<g id="p5-s3"><rect class="b" x="355.6" y="4954" width="254.7" height="74.4" rx="4"/><text class="t" x="362.1" y="4971.9"><tspan x="362.1" dy="0">教师要了解学生的知识水平、心理状态、接受</tspan><tspan x="362.1" dy="15.7">能力、兴趣爱好和个性差异，注重师生情感互</tspan><tspan x="362.1" dy="15.7">动，让学生有一个宽松愉快的学习环境，为提</tspan><tspan x="362.1" dy="15.7">高学习效率打下感情基础。</tspan></text></g>
<g id="p5-s4"><rect class="b" x="355.6" y="5054.7" width="254.7" height="74.4" rx="4"/><text class="t" x="362.1" y="5072.6"><tspan x="362.1" dy="0">树立“团队”精神，注重发挥集体力量，提高备</tspan><tspan x="362.1" dy="15.7">课的质量和效率，并及时在课后记下教学随笔</tspan><tspan x="362.1" dy="15.7">，进行教学反思，并大力提倡“集体备课”方式</tspan><tspan x="362.1" dy="15.7">。</tspan></text></g>
<g id="p5-s5"><rect class="b" x="550.7" y="5155.6" width="59.6" height="28" rx="4"/><text class="t" x="556.7" y="5173.5">授课要求</text></g>
<g id="p5-s6"><rect class="b" x="355.6" y="5209.8" width="254.7" height="43" rx="4"/><text class="t" x="362.1" y="5227.7"><tspan x="362.1" dy="0">(1)新课程理念下的新授课应重视新知识的引</tspan><tspan x="362.1" dy="15.7">入。</tspan></text></g>
<g id="p5-s7"><rect class="b" x="355.6" y="5279" width="254.7" height="43" rx="4"/><text class="t" x="362.1" y="5296.9"><tspan x="362.1" dy="0">(2)新课程理念下的新授课应树立化学课堂教</tspan><tspan x="362.1" dy="15.7">学是化学活动的教学的观念。</tspan></text></g>
<g id="p5-s8"><rect class="b" x="355.6" y="5349" width="254.7" height="43" rx="4"/><text class="t" x="362.1" y="5366.9"><tspan x="362.1" dy="0">(3)新课程理念下的新授课应鼓励学生自主探</tspan><tspan x="362.1" dy="15.7">索与合作交流。</tspan></text></g>
<g id="p5-s9"><rect class="b" x="355.6" y="5418.5" width="254.7" height="43" rx="4"/><text class="t" x="362.1" y="5436.4"><tspan x="362.1" dy="0">(4)新课程理念下的新授课应重视培养学生应</tspan><tspan x="362.1" dy="15.7">用化学的意识和能力。</tspan></text></g>
<g id="p5-s10"><rect class="b" x="355.6" y="5515.4" width="254.7" height="43" rx="4"/><text class="t" x="362.1" y="5533.3"><tspan x="362.1" dy="0">(5)新课程理念下的新授课应重视培养学生动</tspan><tspan x="362.1" dy="15.7">手能力和实践创造精神。</tspan></text></g>
<g id="p5-s10a"><rect class="b" x="235.7" y="5488.6" width="96.1" height="27.4" rx="4"/><text class="t" x="242.2" y="5506.5">作业布置与批改</text></g>
<g id="p5-s10b"><rect class="b" x="76.5" y="5542" width="255.3" height="58.7" rx="4"/><text class="t" x="83" y="5559.9"><tspan x="83" dy="0">作业是使学生掌握所学知识、培养各种能力的</tspan><tspan x="83" dy="15.7">有效手段，也是记录学生成长和评价反馈的重</tspan><tspan x="83" dy="15.7">要手段。应注意以下几点：</tspan></text></g>
<g id="p5-s11"><rect class="b" x="355.6" y="5717" width="254.7" height="43" rx="4"/><text class="t" x="362.1" y="5734.9"><tspan x="362.1" dy="0">(1)适量性(2)层次性(3)针对性(4)实践性(5)探</tspan><tspan x="362.1" dy="15.7">索性</tspan></text></g>
<g id="p5-s11a"><rect class="b" x="76.5" y="5627.7" width="255.3" height="74.4" rx="4"/><text class="t" x="83" y="5645.6"><tspan x="83" dy="0">课外辅导是教师完成教学任务的重要的辅助手</tspan><tspan x="83" dy="15.7">段之一。形式可以有一般辅导、个别辅导、学</tspan><tspan x="83" dy="15.7">生互相辅导。各班成立课外活动小组、兴趣小</tspan><tspan x="83" dy="15.7">组、竞赛辅导小组等。</tspan></text></g>
<g id="p5-s11b"><rect class="b" x="272" y="5728.6" width="59.8" height="27.9" rx="4"/><text class="t" x="278" y="5746.5">测验评价</text></g>
<g id="p5-s11c"><rect class="b" x="76.5" y="5782" width="255.3" height="58.7" rx="4"/><text class="t" x="83" y="5799.9"><tspan x="83" dy="0">必要的测验检查是检测教学效果、激励学生学</tspan><tspan x="83" dy="15.7">习的一个有效方法。各专题及时过关考试，认</tspan><tspan x="83" dy="15.7">真对待。</tspan></text></g>

<!-- Plan 2 -->
<g id="p2-t1"><rect class="b" x="1719" y="1318.8" width="255" height="43" rx="4"/><text class="t" x="1725.5" y="1336.7"><tspan x="1725.5" dy="0">一、研究化学教学大纲，不断完善自己的化学</tspan><tspan x="1725.5" dy="15.7">教学和复习的指导思想。</tspan></text></g>
<g id="p2-t1a"><rect class="b" x="1997" y="1140.6" width="255.8" height="90.1" rx="4"/><text class="t" x="2003.5" y="1158.5"><tspan x="2003.5" dy="0">1、立足教材，不超出教学大纲，注意紧扣课</tspan><tspan x="2003.5" dy="15.7">本。回到课本，并非简单地重复和循环，而是</tspan><tspan x="2003.5" dy="15.7">要螺旋式的上升和提高。对课本内容引申、扩</tspan><tspan x="2003.5" dy="15.7">展。加强纵横联系;对课本的习题可改动条件</tspan><tspan x="2003.5" dy="15.7">或结论，加强综合度，以求深化和提高。</tspan></text></g>
<g id="p2-t1b"><rect class="b" x="1997" y="1257" width="255.8" height="58.7" rx="4"/><text class="t" x="2003.5" y="1274.9"><tspan x="2003.5" dy="0">2、立足双基。重视基本概念、基本技能的复</tspan><tspan x="2003.5" dy="15.7">习。对一些重要概念、知识点作专题讲授，反</tspan><tspan x="2003.5" dy="15.7">复运用，以加深理解。</tspan></text></g>
<g id="p2-t1c"><rect class="b" x="1997" y="1343" width="255.8" height="74.4" rx="4"/><text class="t" x="2003.5" y="1360.9"><tspan x="2003.5" dy="0">3、提高做题能力。复习要注意培养学生思维</tspan><tspan x="2003.5" dy="15.7">的求异性、发散性、独立性和批评性，逐步提</tspan><tspan x="2003.5" dy="15.7">高学生的审题能力、探究能力和综合多项知识</tspan><tspan x="2003.5" dy="15.7">或技能的解题能力。</tspan></text></g>
<g id="p2-t1d"><rect class="b" x="1997" y="1443" width="255.8" height="105.8" rx="4"/><text class="t" x="2003.5" y="1460.9"><tspan x="2003.5" dy="0">4、分类教学和指导。学生存在智力发展和解</tspan><tspan x="2003.5" dy="15.7">题能力上差异。对优秀生，指导阅读、放手钻</tspan><tspan x="2003.5" dy="15.7">研、总结提高的方法去发挥他们的聪明才智。</tspan><tspan x="2003.5" dy="15.7">中等生则要求跟上复习进度，在训练中提高能</tspan><tspan x="2003.5" dy="15.7">力，对学习有困难的学生建立学生档案，实行</tspan><tspan x="2003.5" dy="15.7">逐个辅导，查漏补缺。</tspan></text></g>
<g id="p2-t2"><rect class="b" x="1719" y="1748" width="133" height="27.5" rx="4"/><text class="t" x="1725.5" y="1765.9">二、复习的具体做法。</text></g>
<g id="p2-t2a"><rect class="b" x="1874.7" y="1576.6" width="256.3" height="105.8" rx="4"/><text class="t" x="1881.2" y="1594.5"><tspan x="1881.2" dy="0">1、循序渐进。学习是一个由低到高，由浅到</tspan><tspan x="1881.2" dy="15.7">深，由片面到全面的过程。第一阶段的全面复</tspan><tspan x="1881.2" dy="15.7">习必不可少。初三化学知识的一个特点是：内</tspan><tspan x="1881.2" dy="15.7">容广泛，且分散渗透。总复习就要把分散的知</tspan><tspan x="1881.2" dy="15.7">识集中起来，以线网或图表形式把它们联系起</tspan><tspan x="1881.2" dy="15.7">来，从中找出规律性的东西。</tspan></text></g>
<g id="p2-t2b"><rect class="b" x="1874.7" y="1708.6" width="256.3" height="90.1" rx="4"/><text class="t" x="1881.2" y="1726.5"><tspan x="1881.2" dy="0">2、讲练结合，专题讲解，加强训练。全面复</tspan><tspan x="1881.2" dy="15.7">习的基础上抓住重要内容进行专题训练。尤其</tspan><tspan x="1881.2" dy="15.7">是有一定难度，有一定代表性的内容更要加强</tspan><tspan x="1881.2" dy="15.7">，提高学生思维的.灵活性、严谨性和适应性</tspan><tspan x="1881.2" dy="15.7">。</tspan></text></g>
<g id="p2-t2c"><rect class="b" x="1874.7" y="1825.7" width="256.3" height="137.2" rx="4"/><text class="t" x="1881.2" y="1843.6"><tspan x="1881.2" dy="0">3、进行题型分析，掌握解题规律。不论什么</tspan><tspan x="1881.2" dy="15.7">题型都有各自的规律，掌握了这些规律对解题</tspan><tspan x="1881.2" dy="15.7">是有很大帮助的。我们反对题海战术，但多种</tspan><tspan x="1881.2" dy="15.7">题型的训练却是必要的。教师必须在阅读多种</tspan><tspan x="1881.2" dy="15.7">资料的基础上，整理出适量题目给学生练。教</tspan><tspan x="1881.2" dy="15.7">师进行题型分析，既使学生掌握解各类题方法</tspan><tspan x="1881.2" dy="15.7">，又能对各种知识再重新复习一次，这种做法</tspan><tspan x="1881.2" dy="15.7">很受学生欢迎。</tspan></text></g>
<g id="p2-t3"><rect class="b" x="1719" y="2192.6" width="230" height="27" rx="4"/><text class="t" x="1725.5" y="2210.5">三、加强信息反馈，及时调整教学计划。</text></g>
<g id="p2-t3a"><rect class="b" x="1973" y="1989" width="255.7" height="137.2" rx="4"/><text class="t" x="1979.5" y="2006.9"><tspan x="1979.5" dy="0">1、发动学生提供反馈信息，向学生说明教与</tspan><tspan x="1979.5" dy="15.7">学的辩证关系、教师传授知识与学生提供反馈</tspan><tspan x="1979.5" dy="15.7">信息的重要性，要求学生装在今后教学活动中</tspan><tspan x="1979.5" dy="15.7">密切配合。在复习的过程中，可将历届学生在</tspan><tspan x="1979.5" dy="15.7">学习上曾出现过的疑难问题作讲解。每一节复</tspan><tspan x="1979.5" dy="15.7">习课都反映了备学生这一环节的连续性。也激</tspan><tspan x="1979.5" dy="15.7">发学生提供教学反馈信息的积极性，愿意与教</tspan><tspan x="1979.5" dy="15.7">师合作。</tspan></text></g>
<g id="p2-t3b"><rect class="b" x="1973" y="2192.6" width="255.7" height="43" rx="4"/><text class="t" x="1979.5" y="2210.5"><tspan x="1979.5" dy="0">2、课堂教学注意捕捉学生情感因素的反馈信</tspan><tspan x="1979.5" dy="15.7">息。</tspan></text></g>
<g id="p2-t3br"><rect class="b" x="2252" y="2153" width="255.6" height="121.5" rx="4"/><text class="t" x="2258.5" y="2170.9"><tspan x="2258.5" dy="0">教师对一个知识点的复习，学生反应会有所不</tspan><tspan x="2258.5" dy="15.7">同，如精神集中或涣散、迷惑不解或思索、轻</tspan><tspan x="2258.5" dy="15.7">松愉快或愁眉不展。多少可以反映他们对教学</tspan><tspan x="2258.5" dy="15.7">内容的理解程度。教师可以从中了解输入学生</tspan><tspan x="2258.5" dy="15.7">头脑中和知识是否被学生接受贮存?哪些仍含</tspan><tspan x="2258.5" dy="15.7">糊不清?从而调整复习的程序，达到教与学的</tspan><tspan x="2258.5" dy="15.7">和谐。</tspan></text></g>
<g id="p2-t3c"><rect class="b" x="1973" y="2301.8" width="255.7" height="105.8" rx="4"/><text class="t" x="1979.5" y="2319.7"><tspan x="1979.5" dy="0">3、课后听取学生的反馈信息。教师讲授知识</tspan><tspan x="1979.5" dy="15.7">的过程中，必然受到各到各种干扰。每个学生</tspan><tspan x="1979.5" dy="15.7">接受程度不同，常会造成种种的差异。教师课</tspan><tspan x="1979.5" dy="15.7">后及收集真实和准确的信息，对下一节课的复</tspan><tspan x="1979.5" dy="15.7">习有较强的针对性，避免闭门造车，易被学生</tspan><tspan x="1979.5" dy="15.7">所接受。</tspan></text></g>
<g id="p2-t4"><rect class="b" x="1719" y="2644" width="207" height="27.5" rx="4"/><text class="t" x="1725.5" y="2661.9">四、做好备考工作，提高应变能力。</text></g>
<g id="p2-t4a"><rect class="b" x="1949" y="2433.7" width="255.6" height="90.1" rx="4"/><text class="t" x="1955.5" y="2451.6"><tspan x="1955.5" dy="0">1、加强审题训练。不在审题上下功夫，就难</tspan><tspan x="1955.5" dy="15.7">以做到既快又准。我们提出：审题要慢，解题</tspan><tspan x="1955.5" dy="15.7">适当加快。通过审题训练，提高分析、判断、</tspan><tspan x="1955.5" dy="15.7">推理、联想的能力。特别是一些分步解决的问</tspan><tspan x="1955.5" dy="15.7">题，须得依次作答，才可取得较好成绩。</tspan></text></g>
<g id="p2-t4b"><rect class="b" x="1949" y="2549.6" width="255.6" height="105.8" rx="4"/><text class="t" x="1955.5" y="2567.5"><tspan x="1955.5" dy="0">2、提高表达能力。不少学生会算知思路，就</tspan><tspan x="1955.5" dy="15.7">是说不清，逻辑混乱;书写潦草、丢三漏四。</tspan><tspan x="1955.5" dy="15.7">在改变这些恶习，必须从解题规范和书写格式</tspan><tspan x="1955.5" dy="15.7">抓起。要求做到：字迹清晰，书写整齐，语言</tspan><tspan x="1955.5" dy="15.7">简练、准确、严密;计算准确，文字、符号、</tspan><tspan x="1955.5" dy="15.7">表达符合课本规范，养成严谨治学的好学风。</tspan></text></g>
<g id="p2-t4c"><rect class="b" x="1949" y="2682" width="255.6" height="90.1" rx="4"/><text class="t" x="1955.5" y="2699.9"><tspan x="1955.5" dy="0">3、注意心理训练。在激烈竞争的条件下，在</tspan><tspan x="1955.5" dy="15.7">炎热的环境中，要连续进行三天超负荷的严格</tspan><tspan x="1955.5" dy="15.7">考试，毅力不坚，缺乏斗志，则难以坚持。因</tspan><tspan x="1955.5" dy="15.7">此，考前要减压，减轻思想压力和心理负担，</tspan><tspan x="1955.5" dy="15.7">使学生放下思想包袱，轻装上阵，考出水平。</tspan></text></g>
<g id="p2-t4d"><rect class="b" x="1949" y="2799" width="255.6" height="74.4" rx="4"/><text class="t" x="1955.5" y="2816.9"><tspan x="1955.5" dy="0">4、在最后阶段(约考前两周)，主要安排学生</tspan><tspan x="1955.5" dy="15.7">自我复习，自我完善。由学生自己阅读、消化</tspan><tspan x="1955.5" dy="15.7">整理知识、巩固和扩大复习成果。教师则重点</tspan><tspan x="1955.5" dy="15.7">加强个别辅导，查漏补缺，提高后进生。</tspan></text></g>

<!-- Plan 4 -->
<g id="p4-u1"><rect class="b" x="1719" y="2955" width="85" height="27.5" rx="4"/><text class="t" x="1725.5" y="2972.9">一、指导思想</text></g>
<g id="p4-u1b"><rect class="b" x="1827" y="2900" width="255" height="137.2" rx="4"/><text class="t" x="1833.5" y="2917.9"><tspan x="1833.5" dy="0">认真学习《普通高中化学课程标准》，明确当</tspan><tspan x="1833.5" dy="15.7">前基础教育课程改革的方向，深刻理解课程改</tspan><tspan x="1833.5" dy="15.7">革的理念，全面推进课程改革的进行，以提高</tspan><tspan x="1833.5" dy="15.7">课堂教学质量和培养学生综合能力为目标，抓</tspan><tspan x="1833.5" dy="15.7">好常规教学，夯实基础，不断优化课堂教学的</tspan><tspan x="1833.5" dy="15.7">方法和手段，以培养学生自主学习和合作学习</tspan><tspan x="1833.5" dy="15.7">的能力以及创新思维能力作为教学教研工作的</tspan><tspan x="1833.5" dy="15.7">中心任务。</tspan></text></g>
<g id="p4-u2"><rect class="b" x="1719" y="3423" width="85" height="27.5" rx="4"/><text class="t" x="1725.5" y="3440.9">二、现状分析</text></g>
<g id="p4-v1"><rect class="b" x="1827" y="3126" width="94" height="27.5" rx="4"/><text class="t" x="1833.5" y="3143.9">1、基本情况：</text></g>
<g id="p4-v1r"><rect class="b" x="1942" y="3063.8" width="255.5" height="152.9" rx="4"/><text class="t" x="1948.5" y="3081.7"><tspan x="1948.5" dy="0">高一年级共有13个班，本学期初进行了文理</tspan><tspan x="1948.5" dy="15.7">分班，1、2、3班为文科班，其中3班为重点</tspan><tspan x="1948.5" dy="15.7">班。其他为理科班，其中6班为重点班，7、8</tspan><tspan x="1948.5" dy="15.7">为市重点班，其余均为普通班。学生已学习了</tspan><tspan x="1948.5" dy="15.7">一个学期的高中化学知识，逐渐适应了高中学</tspan><tspan x="1948.5" dy="15.7">习的学习，但学生基础比较普遍较差，这第一</tspan><tspan x="1948.5" dy="15.7">学期还需要强化基础教学有目的拓展化学知识</tspan><tspan x="1948.5" dy="15.7">学习，大量开展习题训练课，以期望能尽早进</tspan><tspan x="1948.5" dy="15.7">入高中学习状态。</tspan></text></g>
<g id="p4-v2"><rect class="b" x="1827" y="3470" width="94" height="27.5" rx="4"/><text class="t" x="1833.5" y="3487.9">2、教材分析：</text></g>
<g id="p4-v2a"><rect class="b" x="1942" y="3243" width="255.5" height="262.8" rx="4"/><text class="t" x="1948.5" y="3260.9"><tspan x="1948.5" dy="0">必修2是主要是学习基本化学理论知识，包括</tspan><tspan x="1948.5" dy="15.7">物质结构元素周期律、化学反应与能量、有机</tspan><tspan x="1948.5" dy="15.7">化合物和化学与自然资源的开发利用四章内容</tspan><tspan x="1948.5" dy="15.7">，第一章元素周期律统领整个高中化学知识，</tspan><tspan x="1948.5" dy="15.7">元素周期表是学习化学的查找工具，理解掌握</tspan><tspan x="1948.5" dy="15.7">元素周期表对学生学好化学至关重要，它是学</tspan><tspan x="1948.5" dy="15.7">习化学的基础。第二章是化学反应与能量，属</tspan><tspan x="1948.5" dy="15.7">于高中化学的基本理论，理科学生要特别在这</tspan><tspan x="1948.5" dy="15.7">里加大学习力度，打好基础，为高二学习选修</tspan><tspan x="1948.5" dy="15.7">4模块做好充分准备。第三章有机化合物的学</tspan><tspan x="1948.5" dy="15.7">习是学生第一次接触有机物，学好这里将来学</tspan><tspan x="1948.5" dy="15.7">习必修5有机化学基础就得心应手了。第四章</tspan><tspan x="1948.5" dy="15.7">是化学学科与自然资源的利用问题，引导学</tspan><tspan x="1948.5" dy="15.7">生关注化学，关注人文，关注化学与社会，化</tspan><tspan x="1948.5" dy="15.7">学与生活，激发学生学好化学服务社会的使命</tspan><tspan x="1948.5" dy="15.7">感。</tspan></text></g>
<g id="p4-v2b"><rect class="b" x="1942" y="3532.6" width="255.5" height="121.5" rx="4"/><text class="t" x="1948.5" y="3550.5"><tspan x="1948.5" dy="0">通过学习，要使学生达到如下目标：(1)建立</tspan><tspan x="1948.5" dy="15.7">基本的化学知识体系，认识更多的生产生活有</tspan><tspan x="1948.5" dy="15.7">机材料;(2)探究物质之间的反应，理解结构与</tspan><tspan x="1948.5" dy="15.7">性质的关系;(3)了解工业生产及化学反应原理</tspan><tspan x="1948.5" dy="15.7">，懂得利用化学知识解释化工生产原理;(4)走</tspan><tspan x="1948.5" dy="15.7">进化学实验，体会化学实验思想和方法，注重</tspan><tspan x="1948.5" dy="15.7">实验操作的训练。</tspan></text></g>
<g id="p4-v3"><rect class="b" x="1827" y="3720" width="94" height="27.5" rx="4"/><text class="t" x="1833.5" y="3737.9">3、学情分析：</text></g>
<g id="p4-v3r"><rect class="b" x="1942" y="3680.6" width="255.5" height="105.8" rx="4"/><text class="t" x="1948.5" y="3698.5"><tspan x="1948.5" dy="0">理科班大多数学生有学习化学的兴趣，有较好</tspan><tspan x="1948.5" dy="15.7">的学习习惯和一定的学习方法。但学生程度参</tspan><tspan x="1948.5" dy="15.7">差不齐，由于高一课时紧，内容多，部分学生</tspan><tspan x="1948.5" dy="15.7">初中化学的知识遗忘较严重，理解掌握上差别</tspan><tspan x="1948.5" dy="15.7">较大。有极个别学生基础薄弱，没有养成良好</tspan><tspan x="1948.5" dy="15.7">的学习习惯。</tspan></text></g>
<g id="p4-u3"><rect class="b" x="1719" y="4213" width="110" height="27.5" rx="4"/><text class="t" x="1725.5" y="4230.9">三、具体工作措施</text></g>
<g id="p4-w1"><rect class="b" x="1851" y="3914.5" width="238" height="27.5" rx="4"/><text class="t" x="1857.5" y="3932.4">1、认真做好教学常规，确保教学有效开展</text></g>
<g id="p4-w1r"><rect class="b" x="2112" y="3812.5" width="256" height="231.4" rx="4"/><text class="t" x="2118.5" y="3830.4"><tspan x="2118.5" dy="0">深入备好每节课，按照课程标准的要求，积极</tspan><tspan x="2118.5" dy="15.7">认真地做好课前的备课资料的搜集工作。然后</tspan><tspan x="2118.5" dy="15.7">，备课组共同研讨确定学案内容，根据班级具</tspan><tspan x="2118.5" dy="15.7">体情况适当调整、共享。部分章节内容制作成</tspan><tspan x="2118.5" dy="15.7">教学课件后，再根据班级具体情况适当调整、</tspan><tspan x="2118.5" dy="15.7">共享。此项工作上课前两至三天完成。认真上</tspan><tspan x="2118.5" dy="15.7">好每节课，积极实践新课程理念，把握好课堂</tspan><tspan x="2118.5" dy="15.7">，提高课堂教学的实效性。精心设置习题，合</tspan><tspan x="2118.5" dy="15.7">理、分层布置学生作业，书面作业要求全批全</tspan><tspan x="2118.5" dy="15.7">改;学生配套教辅不定期抽查，发现问题及时</tspan><tspan x="2118.5" dy="15.7">解决，及时反馈。精选每章的测验题，与备课</tspan><tspan x="2118.5" dy="15.7">组共同出题，并要达到一定的预期效果。对每</tspan><tspan x="2118.5" dy="15.7">一次测试要认真分析，总结，为学生确定合理</tspan><tspan x="2118.5" dy="15.7">的目标。</tspan></text></g>
<g id="p4-w2"><rect class="b" x="1851" y="4109.5" width="238" height="27.5" rx="4"/><text class="t" x="1857.5" y="4127.4">2、积极开展实验教学，提高学生学习兴趣</text></g>
<g id="p4-w2r"><rect class="b" x="2112" y="4070" width="256" height="105.8" rx="4"/><text class="t" x="2118.5" y="4087.9"><tspan x="2118.5" dy="0">化学是一门以实验为基础的自然科学，积极、</tspan><tspan x="2118.5" dy="15.7">认真开展实验教学有助于提高学生的学习兴趣</tspan><tspan x="2118.5" dy="15.7">和直观理解，有助于培养学生实验能力。依据</tspan><tspan x="2118.5" dy="15.7">学校现有实验条件，在保证演示实验绝大部分</tspan><tspan x="2118.5" dy="15.7">完成的基础上，适当开展学生分组实验和课后</tspan><tspan x="2118.5" dy="15.7">实践。</tspan></text></g>
<g id="p4-w3"><rect class="b" x="1851" y="4249.5" width="190" height="27.5" rx="4"/><text class="t" x="1857.5" y="4267.4">3、做好综合实践，践行分层教学</text></g>
<g id="p4-w3a"><rect class="b" x="2064" y="4203" width="255" height="43" rx="4"/><text class="t" x="2070.5" y="4220.9"><tspan x="2070.5" dy="0">(1)成立化学学习兴趣小组，培养特长生学习</tspan><tspan x="2070.5" dy="15.7">、探究化学的兴趣和能力。</tspan></text></g>
<g id="p4-w3b"><rect class="b" x="2064" y="4273.4" width="255" height="58.7" rx="4"/><text class="t" x="2070.5" y="4291.3"><tspan x="2070.5" dy="0">(2)利用晚自习做好缺差辅导，确保每一个学</tspan><tspan x="2070.5" dy="15.7">生学习不掉队，力争高中学业水平测试全面通</tspan><tspan x="2070.5" dy="15.7">过。</tspan></text></g>
<g id="p4-w4"><rect class="b" x="1851" y="4510" width="238" height="27.5" rx="4"/><text class="t" x="1857.5" y="4527.9">4、积极参加教研活动，提高教学业务能力</text></g>
<g id="p4-w4a"><rect class="b" x="2112" y="4358" width="256" height="74.4" rx="4"/><text class="t" x="2118.5" y="4375.9"><tspan x="2118.5" dy="0">(1)学习化学课程标准，明确新课程的具体要</tspan><tspan x="2118.5" dy="15.7">求，利用每周的教研组和备课组活动时间，认</tspan><tspan x="2118.5" dy="15.7">真学习新课程教学理念，深入研究教育教学方</tspan><tspan x="2118.5" dy="15.7">法。</tspan></text></g>
<g id="p4-w4b"><rect class="b" x="2112" y="4458" width="256" height="105.8" rx="4"/><text class="t" x="2118.5" y="4475.9"><tspan x="2118.5" dy="0">(2)定时与备课组内的老师进行交流，解决有</tspan><tspan x="2118.5" dy="15.7">关问题。每个教学环节、每个教案都能在讨论</tspan><tspan x="2118.5" dy="15.7">中确定;与备课组每周进行一次活动，内容包</tspan><tspan x="2118.5" dy="15.7">括有关教学进度的安排、疑难问题的分析讨论</tspan><tspan x="2118.5" dy="15.7">研究，化学教学的最新动态、化学教学的改革</tspan><tspan x="2118.5" dy="15.7">与创新等。</tspan></text></g>
<g id="p4-w4c"><rect class="b" x="2112" y="4591" width="256" height="121.5" rx="4"/><text class="t" x="2118.5" y="4608.9"><tspan x="2118.5" dy="0">(3)积极参加教学改革工作。要使学生参与到</tspan><tspan x="2118.5" dy="15.7">教学的过程中来，更好地提高他们学习的兴趣</tspan><tspan x="2118.5" dy="15.7">和学习的积极性，使他们更自主地学习，学会</tspan><tspan x="2118.5" dy="15.7">学习的方法。都能积极响应学校教学改革的要</tspan><tspan x="2118.5" dy="15.7">求，充分利用网上资源，使用启发式教学，充</tspan><tspan x="2118.5" dy="15.7">分体现以学生为主体的教学模式，不断提高自</tspan><tspan x="2118.5" dy="15.7">身的教学水平。</tspan></text></g>

<!-- Related -->
<g id="rel-1"><rect class="b" x="1781" y="4739.1" width="231" height="27" rx="4"/><text class="t" x="1787.5" y="4756.8">★ 2021年春季学期化学教学计划设计5篇</text></g>
<g id="rel-2"><rect class="b" x="1781" y="4793.3" width="207" height="27" rx="4"/><text class="t" x="1787.5" y="4811">★ 2021年春季初中化学教学计划5篇</text></g>
<g id="rel-3"><rect class="b" x="1781" y="4847.5" width="170" height="27" rx="4"/><text class="t" x="1787.5" y="4865.2">★ 2021高二化学教学计划5篇</text></g>
<g id="rel-4"><rect class="b" x="1781" y="4900.9" width="151" height="27" rx="4"/><text class="t" x="1787.5" y="4918.6">★ 化学学科教学计划2021</text></g>
<g id="rel-5"><rect class="b" x="1781" y="4955.1" width="188" height="27" rx="4"/><text class="t" x="1787.5" y="4972.8">★ 关于化学课课程教学计划2021</text></g>
<g id="rel-6"><rect class="b" x="1781" y="5009.3" width="188" height="27" rx="4"/><text class="t" x="1787.5" y="5027">★ 化学备课组学期教学计划2021</text></g>
<g id="rel-7"><rect class="b" x="1781" y="5062.5" width="188" height="27" rx="4"/><text class="t" x="1787.5" y="5080.2">★ 高二上学期化学教学计划2021</text></g>
<g id="rel-8"><rect class="b" x="1781" y="5116.9" width="237" height="27" rx="4"/><text class="t" x="1787.5" y="5134.6">★ 新学期高二化学必修课程教学计划2021</text></g>
<g id="rel-9"><rect class="b" x="1781" y="5171.1" width="151" height="27" rx="4"/><text class="t" x="1787.5" y="5188.8">★ 高三化学教学计划2021</text></g>
<g id="rel-10"><rect class="b" x="1781" y="5224.5" width="207" height="27" rx="4"/><text class="t" x="1787.5" y="5242.2">★ 2021年高中化学实验教学计划5篇</text></g>
</g>
</svg>
